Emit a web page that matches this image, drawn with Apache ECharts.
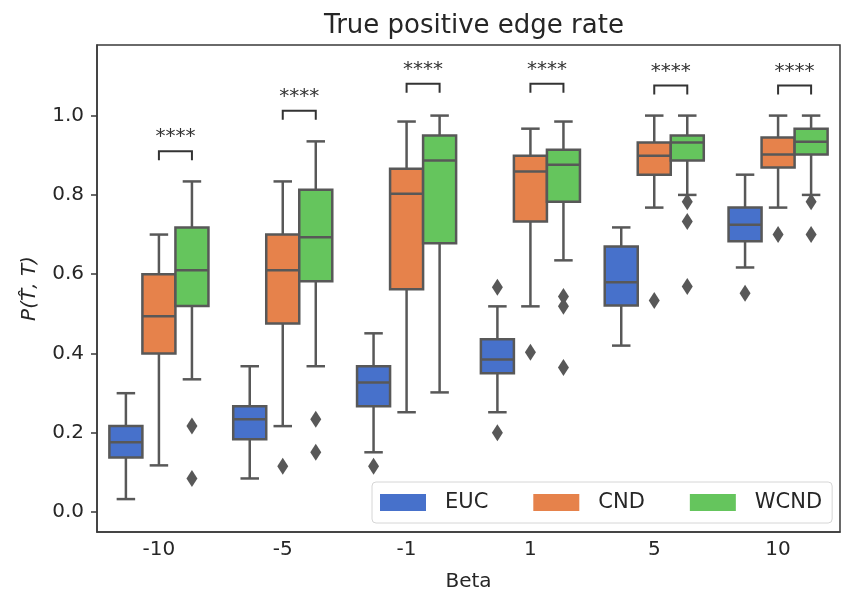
<!DOCTYPE html>
<html>
<head>
<meta charset="utf-8">
<title>True positive edge rate</title>
<script src="https://cdn.jsdelivr.net/npm/echarts@6/dist/echarts.min.js"></script>
<style>
  html, body { margin: 0; padding: 0; background: #fff; }
  #chart { width: 841px; height: 600px; }
</style>
</head>
<body>
<div id="chart"></div>
<script>
const betas = ['-10', '-5', '-1', '1', '5', '10'];

// [lower whisker, Q1, median, Q3, upper whisker] per beta
const eucBoxes = [
  [0.033, 0.138, 0.176, 0.217, 0.300],
  [0.085, 0.184, 0.234, 0.267, 0.368],
  [0.151, 0.267, 0.327, 0.368, 0.451],
  [0.252, 0.350, 0.385, 0.436, 0.519],
  [0.420, 0.521, 0.580, 0.670, 0.718],
  [0.617, 0.683, 0.725, 0.768, 0.851]
];
const eucOutliers = [[], [], [0.116], [0.567, 0.200], [], [0.552]];

const cndBoxes = [
  [0.118, 0.400, 0.494, 0.600, 0.700],
  [0.217, 0.476, 0.610, 0.700, 0.834],
  [0.252, 0.562, 0.803, 0.866, 0.985],
  [0.519, 0.733, 0.859, 0.899, 0.967],
  [0.768, 0.851, 0.899, 0.932, 1.000],
  [0.768, 0.869, 0.902, 0.945, 1.000]
];
const cndOutliers = [[], [0.116], [], [0.403], [0.534], [0.700]];

const wcndBoxes = [
  [0.335, 0.520, 0.610, 0.718, 0.834],
  [0.368, 0.582, 0.693, 0.813, 0.935],
  [0.302, 0.678, 0.887, 0.950, 1.000],
  [0.635, 0.783, 0.876, 0.914, 0.985],
  [0.800, 0.887, 0.932, 0.950, 1.000],
  [0.800, 0.902, 0.934, 0.967, 1.000]
];
const wcndOutliers = [[0.217, 0.085], [0.234, 0.151], [], [0.544, 0.519, 0.365], [0.783, 0.733, 0.569], [0.783, 0.700]];

// height of the CND vs WCND significance bracket
const bracketTops = [0.910, 1.012, 1.080, 1.080, 1.076, 1.076];
const yTicks = [0, 0.2, 0.4, 0.6, 0.8, 1.0];

const edge = '#585858';
const font = 'DejaVu Sans';

function boxRenderer (outliers, slot) {
  return function (params, api) {
    const i = api.value(0);
    const w = api.size([1, 0])[0] * 0.8 / 3;
    const cx = api.coord([i, 0])[0] + (slot - 1) * w;
    const py = v => api.coord([i, v])[1];
    const lo = py(api.value(1));
    const q1 = py(api.value(2));
    const md = py(api.value(3));
    const q3 = py(api.value(4));
    const hi = py(api.value(5));
    const cap = w * 0.28;
    const ls = { stroke: edge, lineWidth: 2.5 };
    const kids = [
      { type: 'line', shape: { x1: cx, y1: hi, x2: cx, y2: q3 }, style: ls },
      { type: 'line', shape: { x1: cx, y1: q1, x2: cx, y2: lo }, style: ls },
      { type: 'line', shape: { x1: cx - cap, y1: hi, x2: cx + cap, y2: hi }, style: ls },
      { type: 'line', shape: { x1: cx - cap, y1: lo, x2: cx + cap, y2: lo }, style: ls },
      { type: 'rect', shape: { x: cx - w / 2, y: q3, width: w, height: q1 - q3 },
        style: { fill: api.visual('color'), stroke: edge, lineWidth: 2.5 } },
      { type: 'line', shape: { x1: cx - w / 2, y1: md, x2: cx + w / 2, y2: md }, style: ls }
    ];
    outliers[params.dataIndex].forEach(v => {
      const oy = py(v);
      kids.push({
        type: 'polygon',
        shape: { points: [[cx, oy - 8.5], [cx + 5.5, oy], [cx, oy + 8.5], [cx - 5.5, oy]] },
        style: { fill: edge }
      });
    });
    return { type: 'group', children: kids };
  };
}

function boxSeries (name, color, boxes, outliers, slot) {
  return {
    name: name,
    type: 'custom',
    itemStyle: { color: color },
    encode: { x: 0, y: [1, 2, 3, 4, 5] },
    data: boxes.map((b, i) => [i].concat(b)),
    renderItem: boxRenderer(outliers, slot),
    z: 3
  };
}

const chart = echarts.init(document.getElementById('chart'));
chart.setOption({
  animation: false,
  backgroundColor: '#fff',
  textStyle: { fontFamily: font },
  title: {
    text: 'True positive edge rate',
    left: 469,
    textAlign: 'center',
    top: 8,
    textStyle: { fontFamily: font, fontSize: 26, fontWeight: 'normal', color: '#262626' }
  },
  legend: {
    data: ['EUC', 'CND', 'WCND'],
    left: 372,
    top: 482,
    icon: 'rect',
    itemWidth: 46,
    itemHeight: 17,
    itemGap: 45,
    padding: [10, 10, 10, 8],
    borderColor: '#d6d6d6',
    borderWidth: 1,
    borderRadius: 4,
    backgroundColor: 'rgba(255,255,255,0.85)',
    itemStyle: { borderWidth: 0 },
    textStyle: { fontFamily: font, fontSize: 21, color: '#262626', padding: [0, 0, 0, 14] }
  },
  grid: {
    left: 97,
    right: 1,
    top: 45,
    bottom: 68,
    show: true,
    borderColor: '#3a3a3a',
    borderWidth: 1.5
  },
  xAxis: {
    type: 'category',
    data: betas,
    name: 'Beta',
    nameLocation: 'middle',
    nameGap: 40,
    nameTextStyle: { fontFamily: font, fontSize: 20, color: '#262626' },
    axisLine: { onZero: false, lineStyle: { color: '#3a3a3a', width: 1.5 } },
    axisTick: { alignWithLabel: true, length: 6, lineStyle: { color: '#3a3a3a', width: 1.5 } },
    axisLabel: { fontFamily: font, fontSize: 20, color: '#262626', margin: 8 },
    splitLine: { show: false }
  },
  yAxis: {
    type: 'value',
    min: -0.05,
    max: 1.178,
    name: 'P(T\u0302, T)',
    nameLocation: 'middle',
    nameRotate: 90,
    nameGap: 57,
    nameTextStyle: { fontFamily: font, fontSize: 20, fontStyle: 'italic', color: '#262626' },
    axisLine: { show: true, onZero: false, lineStyle: { color: '#3a3a3a', width: 1.5 } },
    axisTick: { show: true, length: 6, customValues: yTicks, lineStyle: { color: '#3a3a3a', width: 1.5 } },
    axisLabel: {
      fontFamily: font, fontSize: 20, color: '#262626', margin: 13,
      customValues: yTicks,
      formatter: v => v.toFixed(1)
    },
    splitLine: { show: false }
  },
  series: [
    boxSeries('EUC', '#4771cb', eucBoxes, eucOutliers, 0),
    boxSeries('CND', '#e6824b', cndBoxes, cndOutliers, 1),
    boxSeries('WCND', '#65c55d', wcndBoxes, wcndOutliers, 2),
    {
      name: 'sig',
      type: 'custom',
      silent: true,
      encode: { x: 0, y: 1 },
      data: bracketTops.map((v, i) => [i, v]),
      renderItem: function (params, api) {
        const i = api.value(0);
        const w = api.size([1, 0])[0] * 0.8 / 3;
        const p = api.coord([i, api.value(1)]);
        const x1 = p[0];
        const x2 = p[0] + w;
        const y = p[1];
        return {
          type: 'group',
          children: [
            { type: 'polyline', shape: { points: [[x1, y + 9], [x1, y], [x2, y], [x2, y + 9]] },
              style: { stroke: '#333', lineWidth: 2, fill: null } },
            { type: 'text', style: { text: '****', x: (x1 + x2) / 2, y: y - 4, align: 'center',
              verticalAlign: 'bottom', font: '20px "DejaVu Sans"', fill: '#333' } }
          ]
        };
      },
      z: 4
    }
  ]
});
</script>
</body>
</html>
